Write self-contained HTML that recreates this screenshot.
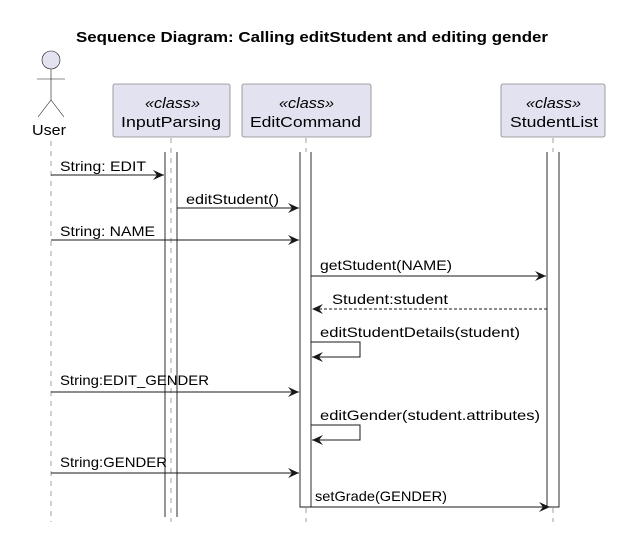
<!DOCTYPE html>
<html><head><meta charset="utf-8"><style>
html,body{margin:0;padding:0;background:#fff;}
svg{display:block;font-family:"Liberation Sans",sans-serif;}
</style></head><body>
<svg width="619" height="557" viewBox="0 0 619 557" xmlns="http://www.w3.org/2000/svg">
<defs>
<marker id="ar" markerWidth="12" markerHeight="10" refX="11" refY="5" orient="auto" markerUnits="userSpaceOnUse">
<path d="M0,0 L11,5 L0,10 L4,5 Z" fill="#181818"/></marker>
</defs>
<text x="76" y="42" font-size="15" font-weight="bold" fill="#000" textLength="472" lengthAdjust="spacingAndGlyphs">Sequence Diagram: Calling editStudent and editing gender</text>
<!-- actor -->
<circle cx="51" cy="60" r="9" fill="#E2E2F0" stroke="#181818" stroke-width="0.6"/>
<line x1="51" y1="69" x2="51" y2="100" stroke="#181818" stroke-width="0.6"/>
<line x1="37" y1="79" x2="65" y2="79" stroke="#181818" stroke-width="0.6"/>
<line x1="51" y1="100" x2="38" y2="117" stroke="#181818" stroke-width="0.6"/>
<line x1="51" y1="100" x2="64" y2="117" stroke="#181818" stroke-width="0.6"/>
<text x="32" y="135" font-size="15" textLength="34" lengthAdjust="spacingAndGlyphs">User</text>
<!-- lifelines -->
<g stroke="#888" stroke-width="0.8" stroke-dasharray="5,5">
<line x1="51" y1="141" x2="51" y2="522"/>
<line x1="171" y1="138" x2="171" y2="522"/>
<line x1="306" y1="138" x2="306" y2="522"/>
<line x1="553" y1="138" x2="553" y2="522"/>
</g>
<!-- boxes -->
<g fill="#E2E2F0" stroke="#888" stroke-width="0.8">
<rect x="113" y="84" width="117" height="53" rx="2"/>
<rect x="242" y="84" width="129" height="53" rx="2"/>
<rect x="501" y="84" width="104" height="53" rx="2"/>
</g>
<g font-size="15" lengthAdjust="spacingAndGlyphs">
<text x="145" y="108" font-style="italic" textLength="55" lengthAdjust="spacingAndGlyphs">«class»</text><text x="121" y="127" textLength="100" lengthAdjust="spacingAndGlyphs">InputParsing</text>
<text x="279" y="108" font-style="italic" textLength="55" lengthAdjust="spacingAndGlyphs">«class»</text><text x="250" y="127" textLength="111" lengthAdjust="spacingAndGlyphs">EditCommand</text>
<text x="526" y="108" font-style="italic" textLength="55" lengthAdjust="spacingAndGlyphs">«class»</text><text x="510" y="127" textLength="88" lengthAdjust="spacingAndGlyphs">StudentList</text>
</g>
<!-- activations -->
<rect x="300" y="152" width="11" height="355" fill="#fff" stroke="none"/>
<rect x="547" y="152" width="12" height="355" fill="#fff" stroke="none"/>
<g stroke="#181818" stroke-width="0.9" fill="none">
<line x1="165" y1="152" x2="165" y2="517"/>
<line x1="177" y1="152" x2="177" y2="517"/>
<polyline points="300,152 300,507 311,507 311,152"/>
<polyline points="547,152 547,507 559,507 559,152"/>
</g>
<!-- messages -->
<g stroke="#181818" stroke-width="1" fill="none" marker-end="url(#ar)">
<line x1="51" y1="175" x2="164" y2="175"/>
<line x1="177" y1="208" x2="299" y2="208"/>
<line x1="51" y1="240" x2="299" y2="240"/>
<line x1="311" y1="276" x2="546" y2="276"/>
<line x1="547" y1="309" x2="312" y2="309" stroke-dasharray="3,2"/>
<polyline points="311,342 360,342 360,357 312,357"/>
<line x1="51" y1="392" x2="299" y2="392"/>
<polyline points="311,425 360,425 360,440 312,440"/>
<line x1="51" y1="473" x2="299" y2="473"/>
<line x1="311" y1="507" x2="550" y2="507"/>
</g>
<g font-size="14" fill="#000">
<text x="60" y="171" textLength="86" lengthAdjust="spacingAndGlyphs">String: EDIT</text>
<text x="186" y="204" textLength="93" lengthAdjust="spacingAndGlyphs">editStudent()</text>
<text x="60" y="236" textLength="95" lengthAdjust="spacingAndGlyphs">String: NAME</text>
<text x="320" y="270" textLength="132" lengthAdjust="spacingAndGlyphs">getStudent(NAME)</text>
<text x="332" y="304" textLength="116" lengthAdjust="spacingAndGlyphs">Student:student</text>
<text x="320" y="337" textLength="200" lengthAdjust="spacingAndGlyphs">editStudentDetails(student)</text>
<text x="60" y="385" textLength="149" lengthAdjust="spacingAndGlyphs">String:EDIT_GENDER</text>
<text x="320" y="420" textLength="220" lengthAdjust="spacingAndGlyphs">editGender(student.attributes)</text>
<text x="60" y="467" textLength="107" lengthAdjust="spacingAndGlyphs">String:GENDER</text>
<text x="315" y="501" textLength="132" lengthAdjust="spacingAndGlyphs">setGrade(GENDER)</text>
</g>
</svg>
</body></html>
